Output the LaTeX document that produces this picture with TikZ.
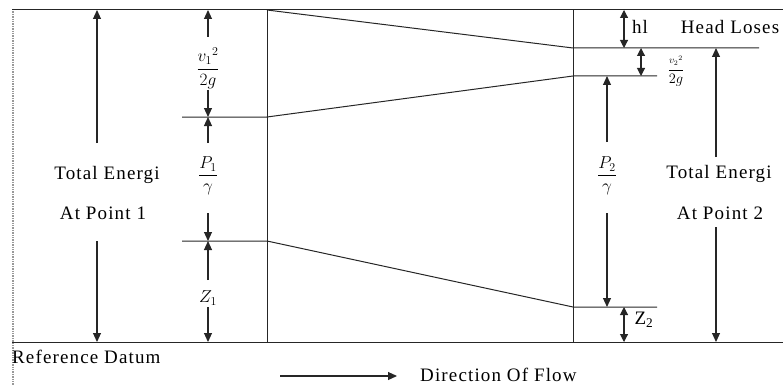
\documentclass[tikz,border=0pt]{standalone}
\usepackage{amsmath}
\usepackage{fontspec}
\setmainfont{Liberation Serif}
\usetikzlibrary{arrows.meta}
\begin{document}
\begin{tikzpicture}[x=1pt,y=-1pt,
  frame/.style={line width=1pt, draw=black!85},
  border/.style={line width=1.4pt, draw=black!40, densely dotted},
  dim/.style={line width=1.1pt, draw=black!85, -{Triangle[length=9pt,width=8pt]}},
  dimboth/.style={line width=1.1pt, draw=black!85, {Triangle[length=8pt,width=8pt]}-{Triangle[length=8pt,width=8pt]}},
  lbl/.style={font=\fontsize{19}{21}\selectfont\addfontfeature{LetterSpace=6}, inner sep=0pt},
  mth/.style={font=\fontsize{17}{19}\selectfont, inner sep=0pt},
  small/.style={font=\fontsize{14}{16}\selectfont, inner sep=0pt},
  ]
\useasboundingbox (0,0) rectangle (783,385);
% frame
\coordinate (TL) at (12,10);
\coordinate (TR) at (783,10);
\coordinate (BL) at (12,342);
\coordinate (BR) at (783,342);
\coordinate (BDt) at (13,9);
\coordinate (BDb) at (13,385);
\coordinate (P1t) at (267,10);
\coordinate (P1b) at (267,342);
\coordinate (P2t) at (573,10);
\coordinate (P2b) at (573,342);
% grade lines
\coordinate (E2) at (573,48);
\coordinate (E2e) at (759,48);
\coordinate (H1s) at (182,117);
\coordinate (H1) at (267,117);
\coordinate (H2) at (573,76);
\coordinate (H2e) at (657,76);
\coordinate (Z1s) at (182,241);
\coordinate (Z1) at (267,241);
\coordinate (Z2) at (573,307);
\coordinate (Z2e) at (657,307);

\draw[border] (BDt) -- (BDb);
\draw[frame] (TL) -- (TR);
\draw[frame] (BL) -- (BR);
\draw[frame] (P1t) -- (P1b);
\draw[frame] (P2t) -- (P2b);
\draw[frame] (P1t) -- (E2) -- (E2e);
\draw[frame] (H1s) -- (H1) -- (H2) -- (H2e);
\draw[frame] (Z1s) -- (Z1) -- (Z2) -- (Z2e);

% left total energy
\node[lbl] (te1) at (107,175) {Total Energi};
\node[lbl] (ap1) at (103,213) {At Point 1};
\coordinate (a1s) at (97,143);
\coordinate (a1e) at (97,10);
\coordinate (a2s) at (97,241);
\coordinate (a2e) at (97,342);
\draw[dim] (a1s) -- (a1e);
\draw[dim] (a2s) -- (a2e);

% left components
\node[mth] (fv1) at (208,68) {$\dfrac{v_1{}^{2}}{2g}$};
\node[mth] (fp1) at (208,176) {$\dfrac{P_1}{\gamma}$};
\node[mth] (fz1) at (208,298) {$Z_1$};
\coordinate (b1s) at (208,37);
\coordinate (b1e) at (208,10);
\coordinate (b2s) at (208,90);
\coordinate (b2e) at (208,117);
\coordinate (b3s) at (208,143);
\coordinate (b3e) at (208,117);
\coordinate (b4s) at (208,213);
\coordinate (b4e) at (208,241);
\coordinate (b5s) at (208,280);
\coordinate (b5e) at (208,241);
\coordinate (b6s) at (208,307);
\coordinate (b6e) at (208,342);
\draw[dim] (b1s) -- (b1e);
\draw[dim] (b2s) -- (b2e);
\draw[dim] (b3s) -- (b3e);
\draw[dim] (b4s) -- (b4e);
\draw[dim] (b5s) -- (b5e);
\draw[dim] (b6s) -- (b6e);

% right side
\coordinate (hlt) at (624,10);
\coordinate (hlb) at (624,48);
\draw[dimboth] (hlt) -- (hlb);
\node[lbl] (hl) at (640,27) {hl};
\node[lbl] (hdl) at (730,27) {Head Loses};
\coordinate (v2t) at (641,48);
\coordinate (v2b) at (641,76);
\draw[dimboth] (v2t) -- (v2b);
\node[small] (fv2) at (676,71) {$\dfrac{\scriptstyle v_2{}^{2}}{2g}$};
\node[mth] (fp2) at (607,176) {$\dfrac{P_2}{\gamma}$};
\coordinate (c1s) at (607,142);
\coordinate (c1e) at (607,76);
\coordinate (c2s) at (607,213);
\coordinate (c2e) at (607,307);
\draw[dim] (c1s) -- (c1e);
\draw[dim] (c2s) -- (c2e);
\node[lbl] (te2) at (719,174) {Total Energi};
\node[lbl] (ap2) at (720,213) {At Point 2};
\coordinate (d1s) at (716,157);
\coordinate (d1e) at (716,48);
\coordinate (d2s) at (716,227);
\coordinate (d2e) at (716,342);
\draw[dim] (d1s) -- (d1e);
\draw[dim] (d2s) -- (d2e);
\coordinate (z2t) at (624,307);
\coordinate (z2b) at (624,342);
\draw[dimboth] (z2t) -- (z2b);
\node[lbl] (fz2) at (644,320) {Z\textsubscript{2}};

% bottom
\node[lbl, anchor=west] (rd) at (12,357) {Reference Datum};
\coordinate (fls) at (280,376);
\coordinate (fle) at (397,376);
\draw[dim] (fls) -- (fle);
\node[lbl, anchor=west] (dof) at (420,375) {Direction Of Flow};
\end{tikzpicture}
\end{document}
